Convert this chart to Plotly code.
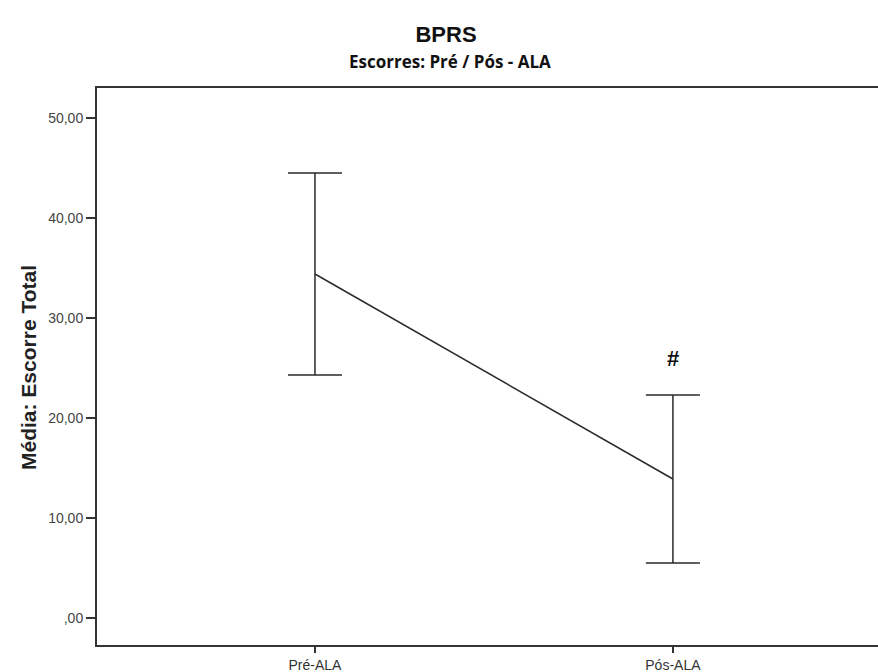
import plotly.graph_objects as go

categories = ["Pré-ALA", "Pós-ALA"]
means = [34.4, 13.9]
err_plus = [10.1, 8.4]
err_minus = [10.1, 8.4]
y_tickvals = [0, 10, 20, 30, 40, 50]
y_ticktext = [",00", "10,00", "20,00", "30,00", "40,00", "50,00"]
marker_label = "#"
marker_y = 26.0

W, H = 878, 672
L, R, T, B = 97, 0, 88, 27

fig = go.Figure()
fig.add_trace(go.Scatter(
    x=categories, y=means, mode="lines",
    line=dict(color="#2b2b2b", width=1.5),
    error_y=dict(type="data", symmetric=False, array=err_plus, arrayminus=err_minus,
                 color="#2b2b2b", thickness=1.5, width=27),
    showlegend=False, hoverinfo="skip",
))

fig.add_annotation(x=categories[1], y=marker_y, text="<b>" + marker_label + "</b>",
                   showarrow=False, font=dict(family="Liberation Sans, Arial", size=22, color="#111"))

fig.add_annotation(xref="paper", yref="paper", x=(450 - L) / (W - L - R), y=(H - B - 62) / (H - T - B),
                   text="<b>Escorres: Pré / Pós - ALA</b>", showarrow=False,
                   font=dict(family="Open Sans", size=17, color="#111"), yanchor="middle")

fig.add_annotation(xref="paper", yref="paper", x=(28 - L) / (W - L - R), y=(H - B - 368) / (H - T - B),
                   text="<b>Média: Escorre Total</b>", textangle=-90, showarrow=False,
                   font=dict(family="Liberation Sans, Arial", size=21, color="#222"),
                   xanchor="center", yanchor="middle")

fig.update_layout(
    width=W, height=H,
    margin=dict(l=L, r=R, t=T, b=B),
    paper_bgcolor="white", plot_bgcolor="white",
    title=dict(text="<b>BPRS</b>", x=446 / W, xref="container", xanchor="center",
               y=1 - 34 / H, yref="container", yanchor="middle",
               font=dict(family="Liberation Sans, Arial", size=22, color="#111")),
    xaxis=dict(type="category", range=[-0.609, 1.573], showgrid=False, zeroline=False,
               showline=True, linecolor="#333", linewidth=2, mirror=True,
               ticks="outside", ticklen=6, tickcolor="#333", tickwidth=1.5,
               tickfont=dict(family="Liberation Sans, Arial", size=14, color="#333")),
    yaxis=dict(range=[-2.7, 53], tickvals=y_tickvals, ticktext=y_ticktext,
               showgrid=False, zeroline=False, showline=True, linecolor="#333", linewidth=2,
               ticks="outside", ticklen=9, tickcolor="#333", tickwidth=1.5,
               tickfont=dict(family="Liberation Sans, Arial", size=14, color="#444")),
)

fig.write_html("out.html")
